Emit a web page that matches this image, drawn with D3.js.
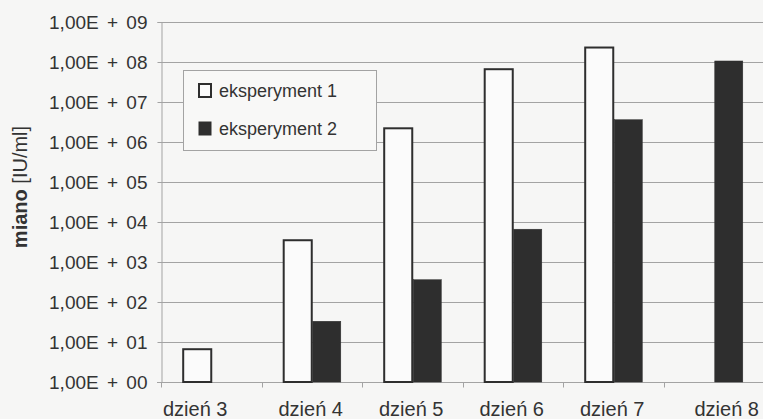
<!DOCTYPE html>
<html>
<head>
<meta charset="utf-8">
<script src="https://cdn.jsdelivr.net/npm/d3@7"></script>
<style>
  html, body { margin: 0; padding: 0; background: #f6f6f5; }
  svg { display: block; font-family: "Liberation Sans", Arial, sans-serif; }
</style>
</head>
<body>
<svg id="chart" width="763" height="419"></svg>
<script>
// Titre (IU/ml) per day for two experiments; null = no measurement
const categories = ["dzień 3", "dzień 4", "dzień 5", "dzień 6", "dzień 7", "dzień 8"];
const seriesNames = ["eksperyment 1", "eksperyment 2"];
const experiment1 = [6.6, 3.5e3, 2.2e6, 6.6e7, 2.3e8, null];
const experiment2 = [null, 33, 3.6e2, 6.6e3, 3.6e6, 1.06e8];
const tickValues = [1, 1e1, 1e2, 1e3, 1e4, 1e5, 1e6, 1e7, 1e8, 1e9];
const tickLabels = ["1,00E + 00", "1,00E + 01", "1,00E + 02", "1,00E + 03", "1,00E + 04",
                    "1,00E + 05", "1,00E + 06", "1,00E + 07", "1,00E + 08", "1,00E + 09"];
const yTitleBold = "miano";
const yTitleRest = " [IU/ml]";

const svg = d3.select("#chart");
const margin = { left: 161, right: 0, top: 22, bottom: 37 };
const W = 763, H = 419;
const plotBottom = H - margin.bottom;

const x0 = d3.scaleBand().domain(categories).range([margin.left, 764]);
const x1 = d3.scaleBand().domain(seriesNames).range([0, x0.bandwidth()]).paddingOuter(0.73);
const y = d3.scaleLog().domain([1, 1e9]).range([plotBottom, margin.top]);

const ink = "#2e2e2e";
const grid = "#a3a3a3";

// horizontal gridlines
svg.append("g")
  .selectAll("line")
  .data(tickValues.slice(1))
  .join("line")
  .attr("x1", margin.left).attr("x2", W)
  .attr("y1", d => Math.round(y(d)) + 0.5).attr("y2", d => Math.round(y(d)) + 0.5)
  .attr("stroke", grid).attr("stroke-width", 1);

// y axis
const yAxis = d3.axisLeft(y)
  .tickValues(tickValues)
  .tickFormat((d, i) => tickLabels[i])
  .tickSize(4)
  .tickPadding(10);
const gy = svg.append("g").attr("transform", `translate(${margin.left + 0.5},0)`).call(yAxis);
gy.select(".domain").attr("stroke", grid);
gy.selectAll(".tick line").attr("stroke", grid);
gy.selectAll(".tick text")
  .attr("fill", "#333")
  .style("font-size", "19px")
  .style("word-spacing", "3px");

// x axis
const xAxis = d3.axisBottom(x0).tickSize(0).tickPadding(19);
const gx = svg.append("g").attr("transform", `translate(0,${plotBottom + 0.5})`).call(xAxis);
gx.select(".domain").remove();
gx.append("line").attr("x1", margin.left - 4).attr("x2", W).attr("stroke", grid);
gx.selectAll(".tick text").attr("fill", "#333").style("font-size", "20px");
// the outermost category labels are spread outward, toward the chart edges
const lastIdx = categories.length - 1;
gx.selectAll(".tick text")
  .attr("dx", (d, i) => i === 0 ? -16 : i === lastIdx ? 13 : -1);
// tick marks between categories
const boundaries = categories.map(c => x0(c));
gx.append("g").selectAll("line").data(boundaries).join("line")
  .attr("x1", d => Math.round(d) + 0.5).attr("x2", d => Math.round(d) + 0.5)
  .attr("y1", 0).attr("y2", 5).attr("stroke", grid);

// bars
const rows = categories.map((c, i) => ({
  cat: c,
  values: [
    { key: seriesNames[0], v: experiment1[i] },
    { key: seriesNames[1], v: experiment2[i] }
  ]
}));
const groups = svg.append("g").selectAll("g").data(rows).join("g")
  .attr("transform", d => `translate(${x0(d.cat)},0)`);
groups.selectAll("rect")
  .data(d => d.values.filter(v => v.v != null))
  .join("rect")
  .attr("x", d => x1(d.key) + 1)
  .attr("y", d => y(d.v))
  .attr("width", x1.bandwidth() - 1)
  .attr("height", d => plotBottom - y(d.v))
  .attr("fill", d => d.key === seriesNames[0] ? "#fbfbfb" : ink)
  .attr("stroke", ink)
  .attr("stroke-width", d => d.key === seriesNames[0] ? 2 : 0.5);

// y title
const yt = svg.append("text")
  .attr("transform", "translate(27,187) rotate(-90)")
  .attr("text-anchor", "middle")
  .attr("fill", "#333")
  .style("font-size", "20px");
yt.append("tspan").attr("font-weight", "bold").text(yTitleBold);
yt.append("tspan").attr("xml:space", "preserve").text(yTitleRest);

// legend
const lg = svg.append("g").attr("transform", "translate(183,70)");
lg.append("rect").attr("x", 0.5).attr("y", 0.5).attr("width", 193).attr("height", 80)
  .attr("fill", "#f8f8f7").attr("stroke", grid);
seriesNames.forEach((name, i) => {
  const row = lg.append("g").attr("transform", `translate(0,${20 + i * 38})`);
  row.append("rect").attr("x", 16).attr("y", -6).attr("width", 12).attr("height", 13)
    .attr("fill", i === 0 ? "#fbfbfb" : ink).attr("stroke", ink).attr("stroke-width", i === 0 ? 2 : 1);
  row.append("text").attr("x", 36).attr("y", 7).attr("fill", "#333")
    .style("font-size", "18px").text(name);
});
</script>
</body>
</html>
